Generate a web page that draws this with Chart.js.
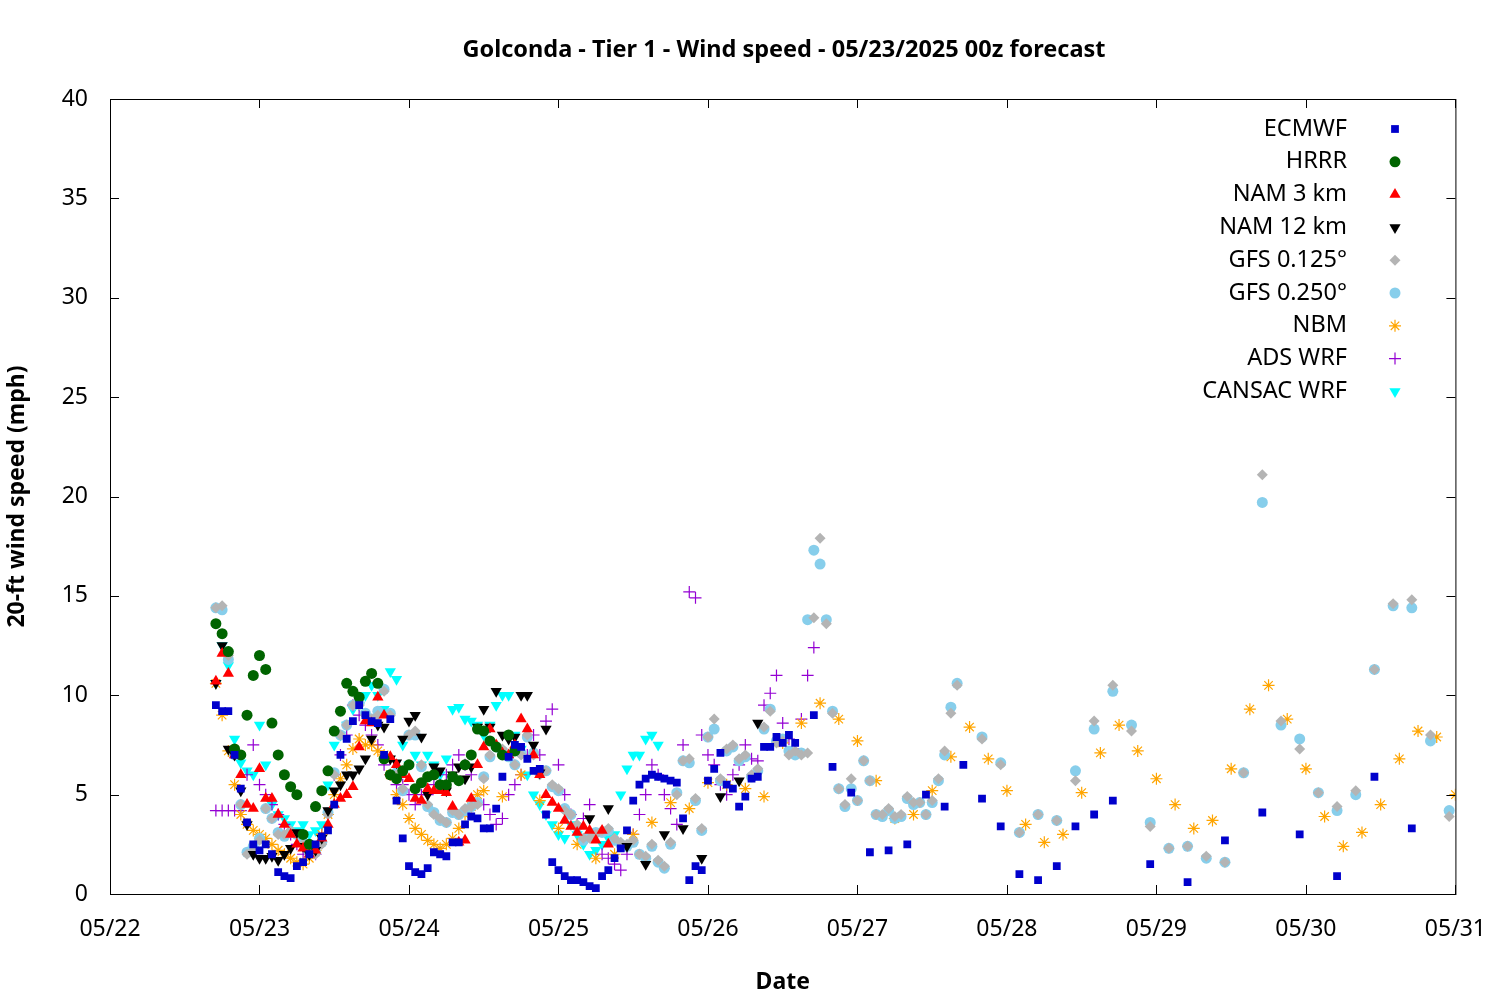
<!DOCTYPE html>
<html>
<head>
<meta charset="utf-8">
<script src="https://cdn.jsdelivr.net/npm/chart.js@4.4.1/dist/chart.umd.min.js"></script>
<style>
  body { margin: 0; background: #fff; }
  #wrap { width: 1500px; height: 1000px; }
</style>
</head>
<body>
<div id="wrap"><canvas id="c" width="1500" height="1000"></canvas></div>
<script>
(function () {
  "use strict";

  // time axis: hours since 05/22 00 local
  var tickLabels = ["05/22", "05/23", "05/24", "05/25", "05/26", "05/27", "05/28", "05/29", "05/30", "05/31"];

  var ecmwfHourly = [9.5, 9.2, 9.2, 7.0, 5.3, 3.6, 2.5, 2.2, 2.5, 2.0, 1.1, 0.9, 0.8, 1.4, 1.6, 2.0, 2.5, 2.9, 3.2, 4.5,
    7.0, 7.8, 8.7, 9.5, 9.0, 8.7, 8.6, 7.0, 8.8, 4.7, 2.8, 1.4, 1.1, 1.0, 1.3, 2.1, 2.0, 1.9, 2.6, 2.6,
    3.5, 3.9, 3.8, 3.3, 3.3, 4.3, 5.9, 6.9, 7.5, 7.4, 6.8, 6.2, 6.3, 4.0, 1.6, 1.2, 0.9, 0.7, 0.7, 0.6,
    0.4, 0.3, 0.9, 1.2, 1.8, 2.3, 3.2, 4.7, 5.5, 5.8, 6.0, 5.9, 5.8, 5.7, 5.6, 3.8, 0.7, 1.4, 1.2, 5.7,
    6.3, 7.1, 5.5, 5.3, 4.4, 4.9, 5.8, 5.9, 7.4, 7.4, 7.9, 7.6, 8.0, 7.6];
  var ecmwf3h = [9.0, 6.4, 5.1, 2.1, 2.2, 2.5, 5.0, 4.4, 6.5, 4.8, 3.4, 1.0, 0.7, 1.4, 3.4, 4.0, 4.7];
  var ecmwf6h = [1.5, 0.6, 2.7, 4.1, 3.0, 0.9, 5.9, 3.3];

  var hrrr = [13.6, 13.1, 12.2, 7.3, 7.0, 9.0, 11.0, 12.0, 11.3, 8.6, 7.0, 6.0, 5.4, 5.0, 3.0, 2.5, 4.4, 5.2, 6.2, 8.2,
    9.2, 10.6, 10.2, 9.9, 10.7, 11.1, 10.6, 6.8, 6.0, 5.8, 6.2, 6.5, 5.3, 5.6, 5.9, 6.0, 5.5, 5.5, 5.9, 5.7,
    6.5, 7.0, 8.3, 8.2, 7.7, 7.4, 7.0, 8.0, 7.2];

  var nam3 = [10.7, 12.1, 11.1, 7.0, 6.0, 4.5, 4.3, 6.3, 4.8, 4.8, 4.0, 3.5, 3.0, 2.5, 2.3, 2.0, 2.2, 2.8, 3.5, 4.5,
    4.8, 5.0, 5.4, 7.4, 8.7, 8.6, 9.9, 9.0, 6.9, 6.5, 6.0, 5.8, 4.8, 4.7, 5.3, 5.2, 5.2, 5.1, 4.4, 2.6,
    2.7, 4.8, 6.5, 7.4, 8.3, 7.5, 7.1, 7.0, 7.5, 8.8, 8.3, 7.0, 6.0, 5.0, 4.6, 4.3, 3.7, 3.4, 3.1, 3.4,
    3.2, 2.7, 3.2, 2.5];

  var nam12Hourly = [10.6, 12.5, 7.3, 7.0, 5.2, 3.5, 2.0, 1.8, 1.8, 1.9, 1.7, 2.0, 2.3, 3.1, 2.4, 2.0, 2.2, 2.8, 4.2, 5.2,
    5.5, 6.0, 6.0, 6.3, 6.8, 7.8, 8.5, 8.4, 6.8, 6.6, 7.8, 8.7, 9.0, 7.9, 5.0, 6.4, 6.2, 5.2, 6.0, 6.4,
    5.8, 6.4, 8.4, 9.3, 8.4, 10.2, 8.0, 7.8, 7.9, 10.0, 10.0, 7.5, 6.1, 8.3];
  var nam12_3h = [3.8, 4.3, 2.4, 1.5, 3.0, 3.3, 1.8, 4.9, 5.7, 8.6];

  var gfs125Hourly = [14.4, 14.5, 12.0, 7.0, 4.5, 2.0, 2.2, 2.7, 4.3, 3.8, 3.0, 3.0, 3.2, 3.0, 2.5, 2.0, 2.0, 2.5, 4.0, 6.0,
    8.0, 8.5, 9.5, 9.5, 9.0, 8.8, 9.0, 10.2, 9.0, 6.0, 5.3, 8.0, 8.2, 6.5, 4.5, 4.0, 3.8, 3.6, 4.2, 4.0,
    4.3, 4.4, 4.5, 5.8, 7.0, 7.5, 7.3, 7.0, 6.5, 7.0, 8.0, 7.0, 6.0, 6.2, 5.5, 5.3, 4.2, 4.0, 3.5, 2.8,
    2.8, 3.0, 3.2, 3.3, 2.8, 2.6, 2.5, 2.7, 2.0, 1.9, 2.5, 1.7, 1.4, 2.6, 5.0, 6.7, 6.8, 4.8, 3.3, 7.9,
    8.8, 5.8, 7.3, 7.5, 6.8, 7.0, 6.0, 6.3, 8.4, 9.2, 7.6, 7.7, 7.0, 7.2, 7.0, 7.1, 13.9, 17.9, 13.6, 9.1,
    5.3, 4.5, 5.8, 4.7, 6.7, 5.7, 4.0, 4.0, 4.3, 3.9, 4.0, 4.9, 4.6, 4.6, 4.0, 4.7, 5.8, 7.2, 9.1, 10.5];
  var gfs125_3h = [7.8, 6.5, 3.1, 4.0, 3.7, 5.7, 8.7, 10.5, 8.2, 3.4, 2.3, 2.4, 1.9, 1.6, 6.1, 21.1, 8.7, 7.3,
    5.1, 4.4, 5.2, 11.3, 14.6, 14.8, 8.0, 3.9];

  var gfs250Hourly = [14.4, 14.3, 11.8, 7.0, 4.5, 2.1, 2.4, 2.8, 4.3, 3.8, 3.1, 2.9, 3.1, 3.0, 2.6, 2.1, 2.1, 2.6, 4.1, 6.1,
    8.0, 8.5, 9.5, 9.6, 9.1, 8.8, 9.2, 10.3, 9.1, 6.1, 5.2, 8.0, 8.0, 6.4, 4.4, 4.1, 3.7, 3.6, 4.1, 4.0,
    4.2, 4.4, 4.6, 5.9, 6.9, 7.4, 7.2, 6.9, 6.5, 7.1, 7.9, 7.1, 6.1, 6.2, 5.4, 5.2, 4.3, 4.0, 3.4, 2.7,
    2.9, 3.1, 3.1, 3.2, 2.7, 2.5, 2.4, 2.6, 2.0, 1.8, 2.4, 1.6, 1.3, 2.5, 5.1, 6.7, 6.6, 4.7, 3.2, 7.9,
    8.3, 5.7, 7.2, 7.4, 6.7, 6.9, 5.9, 6.2, 8.3, 9.3, 7.7, 7.8, 7.2, 7.0, 7.1, 13.8, 17.3, 16.6, 13.8, 9.2,
    5.3, 4.4, 5.3, 4.7, 6.7, 5.7, 4.0, 3.9, 4.2, 3.8, 3.9, 4.8, 4.5, 4.6, 4.0, 4.6, 5.7, 7.0, 9.4, 10.6];
  var gfs250_3h = [7.9, 6.6, 3.1, 4.0, 3.7, 6.2, 8.3, 10.2, 8.5, 3.6, 2.3, 2.4, 1.8, 1.6, 6.1, 19.7, 8.5, 7.8,
    5.1, 4.2, 5.0, 11.3, 14.5, 14.4, 7.7, 4.2];

  var nbmHourly = [10.6, 9.0, 7.2, 5.5, 4.0, 3.5, 3.2, 3.0, 2.8, 2.5, 2.2, 2.0, 1.8, 1.6, 1.5, 1.8, 2.2, 3.0, 4.0, 5.0,
    5.8, 6.5, 7.3, 7.8, 7.5, 7.5, 7.2, 7.0, 6.0, 5.0, 4.5, 3.8, 3.3, 3.0, 2.7, 2.5, 2.3, 2.5, 2.8, 3.3,
    4.0, 4.4, 5.0, 5.2];
  var nbm3h = [4.9, 6.0, 4.7, 3.3, 2.5, 1.8, 2.0, 3.0, 3.6, 4.6, 4.3, 5.6, 5.5, 5.3, 4.9, 7.6, 8.6, 9.6, 8.8,
    7.7, 5.7, 3.8, 4.0, 5.2, 6.9, 8.4, 6.8, 5.2, 3.5, 2.6, 3.0, 5.1, 7.1, 8.5, 7.2, 5.8, 4.5, 3.3, 3.7,
    6.3, 9.3, 10.5, 8.8, 6.3, 3.9, 2.4, 3.1, 4.5, 6.8, 8.2, 7.9, 5.0];

  var adsWrf = [4.2, 4.2, 4.2, 4.2, 4.2, 6.0, 7.5, 5.5, 5.0, 4.5, 4.0, 3.5, 3.0, 2.5, 2.0, 2.0, 2.0, 3.0, 4.0, 6.0,
    7.0, 8.0, 9.5, 9.0, 8.5, 8.0, 7.5, 6.5, 6.0, 5.5, 5.5, 5.0, 4.5, 5.0, 5.0, 5.5, 5.5, 6.0, 6.5, 7.0,
    6.5, 6.0, 5.0, 4.5, 4.0, 3.5, 3.8, 5.0, 5.5, 6.0, 7.0, 8.0, 7.0, 8.7, 9.3, 6.5, 5.0, 4.0, 3.5, 3.8,
    4.5, 3.0, 2.0, 1.8, 1.5, 1.2, 2.0, 3.0, 4.0, 5.0, 6.5, 6.0, 5.0, 4.3, 3.5, 7.5, 15.2, 14.9,
    8.0, 7.0, 6.5, 5.5, 5.0, 6.0, 6.5, 7.5, 6.8, 6.7, 9.5, 10.1, 11.0, 8.6, 7.8, 7.3, 8.8, 11.0, 12.4];

  var cansac = [10.6, 12.5, 11.5, 7.8, 6.6, 6.2, 6.0, 8.5, 6.5, 4.5, 4.0, 3.8, 3.5, 3.2, 3.5, 3.0, 3.2, 3.5, 5.5, 7.5,
    8.0, 8.5, 9.3, 9.5, 10.0, 10.5, 10.0, 9.3, 11.2, 10.8, 7.5, 6.5, 7.0, 6.5, 7.0, 6.5, 6.0, 6.8, 9.3, 9.4,
    8.8, 8.7, 8.5, 8.0, 8.5, 9.5, 10.0, 10.0, 8.0, 7.3, 6.0, 5.0, 4.5, 4.0, 3.5, 3.0, 2.8, 3.5, 3.0, 2.5,
    2.0, 2.2, 2.5, 2.8, 3.0, 5.0, 6.3, 7.0, 7.0, 7.8, 8.0, 7.5];

  function series(parts) {
    // parts: [values, firstHour, stepHours]
    var out = [];
    parts.forEach(function (p) {
      p[0].forEach(function (v, i) { out.push({ x: p[1] + i * p[2], y: v }); });
    });
    return out;
  }

  var models = [
    { label: "ECMWF", data: series([[ecmwfHourly, 17, 1], [ecmwf3h, 113, 3], [ecmwf6h, 167, 6]]), color: "#0000cc", style: "rect", r: 5.5 },
    { label: "HRRR", data: series([[hrrr, 17, 1]]), color: "#006400", style: "circle", r: 5.5 },
    { label: "NAM 3 km", data: series([[nam3, 17, 1]]), color: "#ff0000", style: "triangle", r: 6.5, rot: 0 },
    { label: "NAM 12 km", data: series([[nam12Hourly, 17, 1], [nam12_3h, 77, 3]]), color: "#000000", style: "triangle", r: 6.5, rot: 180 },
    { label: "GFS 0.125°", data: series([[gfs125Hourly, 17, 1], [gfs125_3h, 140, 3]]), color: "#b4b4b4", style: "rectRot", r: 5.5 },
    { label: "GFS 0.250°", data: series([[gfs250Hourly, 17, 1], [gfs250_3h, 140, 3]]), color: "#87ceeb", style: "circle", r: 5.5 },
    { label: "NBM", data: series([[nbmHourly, 17, 1], [nbm3h, 63, 3]]), color: "#ffa500", style: "star", r: 6 },
    { label: "ADS WRF", data: series([[adsWrf, 17, 1]]), color: "#9400d3", style: "cross", r: 6 },
    { label: "CANSAC WRF", data: series([[cansac, 17, 1]]), color: "#00ffff", style: "triangle", r: 6.5, rot: 180 }
  ];

  var FONT = "'Noto Sans', 'Open Sans', sans-serif";

  var frame = {
    id: "frame",
    afterDraw: function (chart) {
      var ctx = chart.ctx, a = chart.chartArea;
      var xs = chart.scales.x, ys = chart.scales.y;
      ctx.save();
      ctx.strokeStyle = "#000";
      ctx.lineWidth = 1;
      ctx.strokeRect(a.left + 0.5, a.top + 0.5, a.right - a.left, a.bottom - a.top);
      ctx.beginPath();
      for (var v = 0; v <= 40; v += 5) {
        var py = Math.round(ys.getPixelForValue(v)) + 0.5;
        ctx.moveTo(a.left, py); ctx.lineTo(a.left + 9, py);
        ctx.moveTo(a.right, py); ctx.lineTo(a.right - 9, py);
      }
      for (var h = 0; h <= 216; h += 24) {
        var px = Math.round(xs.getPixelForValue(h)) + 0.5;
        ctx.moveTo(px, a.bottom); ctx.lineTo(px, a.bottom - 9);
        ctx.moveTo(px, a.top); ctx.lineTo(px, a.top + 9);
      }
      ctx.stroke();

      ctx.fillStyle = "#000";
      ctx.font = "bold 23.5px " + FONT;
      ctx.textAlign = "center";
      ctx.textBaseline = "middle";
      ctx.fillText("Golconda - Tier 1 - Wind speed - 05/23/2025 00z forecast", 784, 50);

      // legend, text right-aligned with marker on the right
      ctx.font = "23.5px " + FONT;
      ctx.textAlign = "right";
      chart.data.datasets.forEach(function (ds, i) {
        var y = 129 + i * 32.8;
        ctx.fillStyle = "#000";
        ctx.fillText(ds.label, 1347, y);
        ctx.fillStyle = ds.pointBackgroundColor;
        ctx.strokeStyle = ds.pointBorderColor;
        ctx.lineWidth = ds.pointBorderWidth;
        Chart.helpers.drawPoint(ctx, { pointStyle: ds.pointStyle, radius: ds.pointRadius, rotation: ds.pointRotation, borderWidth: ds.pointBorderWidth }, 1395, y);
      });
      ctx.restore();
    }
  };

  new Chart(document.getElementById("c"), {
    type: "scatter",
    data: {
      datasets: models.map(function (m) {
        var open = m.style === "star" || m.style === "cross";
        return {
          label: m.label,
          data: m.data,
          pointStyle: m.style,
          pointRadius: m.r,
          pointRotation: m.rot || 0,
          pointBackgroundColor: m.color,
          pointBorderColor: m.color,
          pointBorderWidth: open ? 1.2 : 0,
          pointHoverRadius: m.r
        };
      })
    },
    options: {
      responsive: false,
      animation: false,
      events: [],
      layout: { padding: { top: 99, right: 39, left: 0, bottom: 0 } },
      scales: {
        x: {
          type: "linear", min: 0, max: 216,
          afterFit: function (s) { s.height = 106; },
          grid: { display: false },
          border: { display: false },
          ticks: {
            stepSize: 24, color: "#000", padding: 14,
            font: { family: FONT, size: 23 },
            callback: function (v) { return tickLabels[v / 24]; }
          },
          title: { display: true, text: "Date", color: "#000", font: { family: FONT, size: 23, weight: "bold" }, padding: { top: 12 } }
        },
        y: {
          min: 0, max: 40,
          afterFit: function (s) { s.width = 110; },
          grid: { display: false },
          border: { display: false },
          ticks: { stepSize: 5, color: "#000", padding: 14, font: { family: FONT, size: 23 } },
          title: { display: true, text: "20-ft wind speed (mph)", color: "#000", font: { family: FONT, size: 23, weight: "bold" }, padding: { bottom: 4 } }
        }
      },
      plugins: { legend: { display: false }, tooltip: { enabled: false }, title: { display: false } }
    },
    plugins: [frame]
  });
})();
</script>
</body>
</html>
